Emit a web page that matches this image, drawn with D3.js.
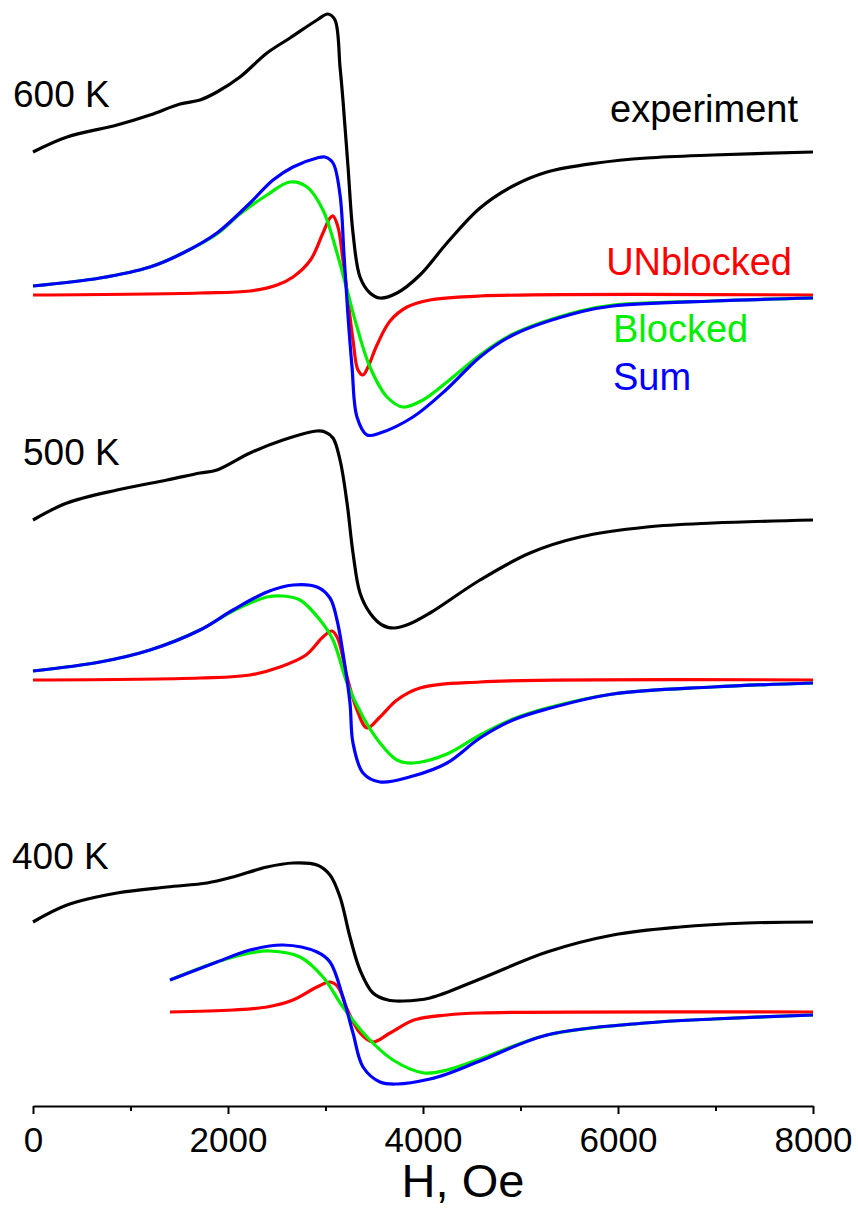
<!DOCTYPE html>
<html>
<head>
<meta charset="utf-8">
<script src="https://cdn.jsdelivr.net/npm/d3@7"></script>
<style>
  body { margin: 0; background: #fff; }
  svg { display: block; font-family: "Liberation Sans", Arial, sans-serif; }
</style>
</head>
<body>
<div id="plot"></div>
<script>
// EPR spectra, derivative signal (a.u.) vs field H (Oe)
// each panel is shifted up by its offset

var panelTemps = ["600 K", "500 K", "400 K"];
var panelOffsets = [811, 426, 94];

var majorTicks = [0, 2000, 4000, 6000, 8000];
var minorTicks = [1000, 3000, 5000, 7000];

var seriesNames = ["experiment", "UNblocked", "Blocked", "Sum"];
var seriesColors = ["#000000", "#ff0000", "#00ee00", "#0000ff"];

// 600 K
var exp600 = [[0,143],[349,158],[862,170],[1200,180],[1508,191],[1713,195],[1887,203],[2123,218],[2400,242],[2636,257],[2913,275],[3026,281],[3097,275],[3149,228],[3179,195],[3231,128],[3282,62],[3354,18],[3456,2],[3559,-3],[3733,2],[3969,20],[4246,52],[4585,87],[4923,109],[5272,123],[5785,132],[6297,137],[6974,140],[8000,143]];
var unb600 = [[0,0],[1713,2],[2226,4],[2503,10],[2667,18],[2846,35],[2974,62],[3046,77],[3077,79],[3128,68],[3179,35],[3231,-5],[3282,-45],[3333,-75],[3385,-80],[3436,-72],[3528,-50],[3662,-26],[3836,-12],[4072,-5],[4585,-1],[8000,0]];
var blk600 = [[0,9],[687,17],[1200,28],[1538,42],[1887,61],[2123,81],[2400,100],[2636,113],[2811,108],[2974,85],[3118,42],[3221,5],[3323,-32],[3456,-72],[3631,-102],[3795,-112],[3999,-105],[4246,-87],[4585,-60],[4923,-39],[5610,-16],[5949,-10],[6974,-6],[8000,-3]];
var sum600 = [[0,9],[687,17],[1200,28],[1538,42],[1887,62],[2226,92],[2462,115],[2667,128],[2913,137],[2995,138],[3077,132],[3149,100],[3190,40],[3230,-20],[3272,-72],[3323,-122],[3426,-140],[3559,-138],[3897,-122],[4246,-94],[4585,-62],[4923,-40],[5610,-17],[5949,-11],[6974,-6],[8000,-3]];

// 500 K
var exp500 = [[0,160],[349,177],[862,190],[1374,200],[1713,207],[1887,210],[2226,227],[2564,240],[2913,249],[2995,248],[3077,242],[3149,220],[3221,177],[3282,127],[3354,87],[3456,67],[3580,55],[3700,52],[3860,56],[4072,67],[4585,100],[5097,127],[5610,143],[6297,153],[6974,157],[8000,160]];
var unb500 = [[0,0],[1713,2],[2226,5],[2533,13],[2800,25],[2974,43],[3067,49],[3128,41],[3221,3],[3323,-30],[3426,-48],[3559,-37],[3733,-20],[3969,-8],[4585,-2],[8000,0]];
var blk500 = [[0,9],[687,18],[1200,30],[1713,50],[2051,69],[2400,83],[2564,84],[2739,80],[2944,60],[3077,40],[3221,-3],[3385,-37],[3559,-63],[3733,-80],[3897,-83],[4246,-74],[4585,-55],[4923,-39],[5272,-28],[5949,-14],[6974,-7],[8000,-3]];
var sum500 = [[0,9],[687,18],[1200,30],[1713,50],[2051,70],[2400,88],[2667,95],[2913,93],[3046,82],[3118,60],[3179,27],[3251,-23],[3282,-63],[3385,-93],[3559,-102],[3897,-96],[4246,-83],[4585,-58],[4923,-40],[5272,-29],[5949,-14],[6974,-7],[8000,-3]];

// 400 K
var exp400 = [[0,90],[349,107],[862,119],[1374,125],[1785,129],[2051,135],[2400,145],[2667,149],[2913,147],[3046,137],[3149,115],[3251,75],[3354,42],[3487,19],[3640,12],[3795,11],[4072,14],[4585,33],[5272,60],[5949,77],[6636,85],[7323,89],[8000,90]];
var unb400 = [[1405,0],[2051,2],[2400,5],[2667,12],[2913,25],[3046,30],[3128,25],[3221,3],[3354,-21],[3487,-30],[3662,-21],[3908,-8],[4246,-3],[4585,-1],[8000,0]];
var blk400 = [[1405,32],[1887,50],[2226,59],[2431,61],[2739,55],[2974,35],[3179,5],[3426,-25],[3692,-48],[4010,-61],[4246,-58],[4585,-47],[5272,-23],[6277,-11],[6974,-7],[8000,-3]];
var sum400 = [[1405,32],[1887,50],[2226,62],[2564,67],[2913,60],[3046,50],[3179,15],[3282,-21],[3385,-55],[3559,-70],[3733,-72],[4072,-67],[4246,-62],[4585,-49],[5272,-23],[6277,-11],[6974,-7],[8000,-3]];

var panels = [
  [exp600, unb600, blk600, sum600],
  [exp500, unb500, blk500, sum500],
  [exp400, unb400, blk400, sum400]
];

var w = 858, h = 1209;
var margin = {left: 33, right: 45, bottom: 103};

var svg = d3.select("#plot").append("svg")
  .attr("width", w)
  .attr("height", h);

svg.append("rect").attr("width", w).attr("height", h).attr("fill", "#fff");

var x = d3.scaleLinear().domain([0, 8000]).range([margin.left, w - margin.right]);
var y = d3.scaleLinear().domain([0, 1106]).range([h - margin.bottom, 0]);

// draw curves
panels.forEach(function(curves, p) {
  var line = d3.line()
    .x(function(d) { return x(d[0]); })
    .y(function(d) { return y(d[1] + panelOffsets[p]); })
    .curve(d3.curveCatmullRom.alpha(0.5));

  // order: experiment, unblocked, blocked, sum drawn on top
  [0, 1, 2, 3].forEach(function(i) {
    svg.append("path")
      .datum(curves[i])
      .attr("fill", "none")
      .attr("stroke", seriesColors[i])
      .attr("stroke-width", 3.2)
      .attr("stroke-linejoin", "round")
      .attr("d", line);
  });
});

// temperature labels
var tempPos = [[13, 107], [23, 465], [12, 869]];
svg.selectAll(".temp")
  .data(panelTemps)
  .enter().append("text")
  .attr("class", "temp")
  .attr("x", function(d, i) { return tempPos[i][0]; })
  .attr("y", function(d, i) { return tempPos[i][1]; })
  .style("font-size", "37px")
  .attr("fill", "#000")
  .text(function(d) { return d; });

// series labels
var labelPos = [[798, 122, "end"], [792, 275, "end"], [613, 342, "start"], [613, 390, "start"]];
svg.selectAll(".lab")
  .data(seriesNames)
  .enter().append("text")
  .attr("class", "lab")
  .attr("x", function(d, i) { return labelPos[i][0]; })
  .attr("y", function(d, i) { return labelPos[i][1]; })
  .attr("text-anchor", function(d, i) { return labelPos[i][2]; })
  .style("font-size", "38px")
  .attr("fill", function(d, i) { return seriesColors[i]; })
  .text(function(d) { return d; });

// x axis
var xAxis = d3.axisBottom(x)
  .tickValues(majorTicks)
  .tickFormat(d3.format("d"))
  .tickSize(8)
  .tickSizeOuter(0)
  .tickPadding(13);

var gx = svg.append("g")
  .attr("transform", "translate(0," + (h - margin.bottom) + ")")
  .call(xAxis);
gx.select(".domain").attr("stroke-width", 2);
gx.selectAll(".tick line").attr("stroke-width", 2);
gx.selectAll(".tick text")
  .style("font-size", "35px")
  .style("font-family", "'Liberation Sans', Arial, sans-serif")
  .attr("fill", "#000");

var gMinor = svg.append("g")
  .attr("transform", "translate(0," + (h - margin.bottom) + ")")
  .call(d3.axisBottom(x).tickValues(minorTicks).tickSize(5).tickFormat(""));
gMinor.select(".domain").remove();
gMinor.selectAll(".tick line").attr("stroke-width", 2);

// axis title
svg.append("text")
  .attr("x", 463)
  .attr("y", 1197)
  .attr("text-anchor", "middle")
  .style("font-size", "47px")
  .attr("fill", "#000")
  .text("H, Oe");
</script>
</body>
</html>
